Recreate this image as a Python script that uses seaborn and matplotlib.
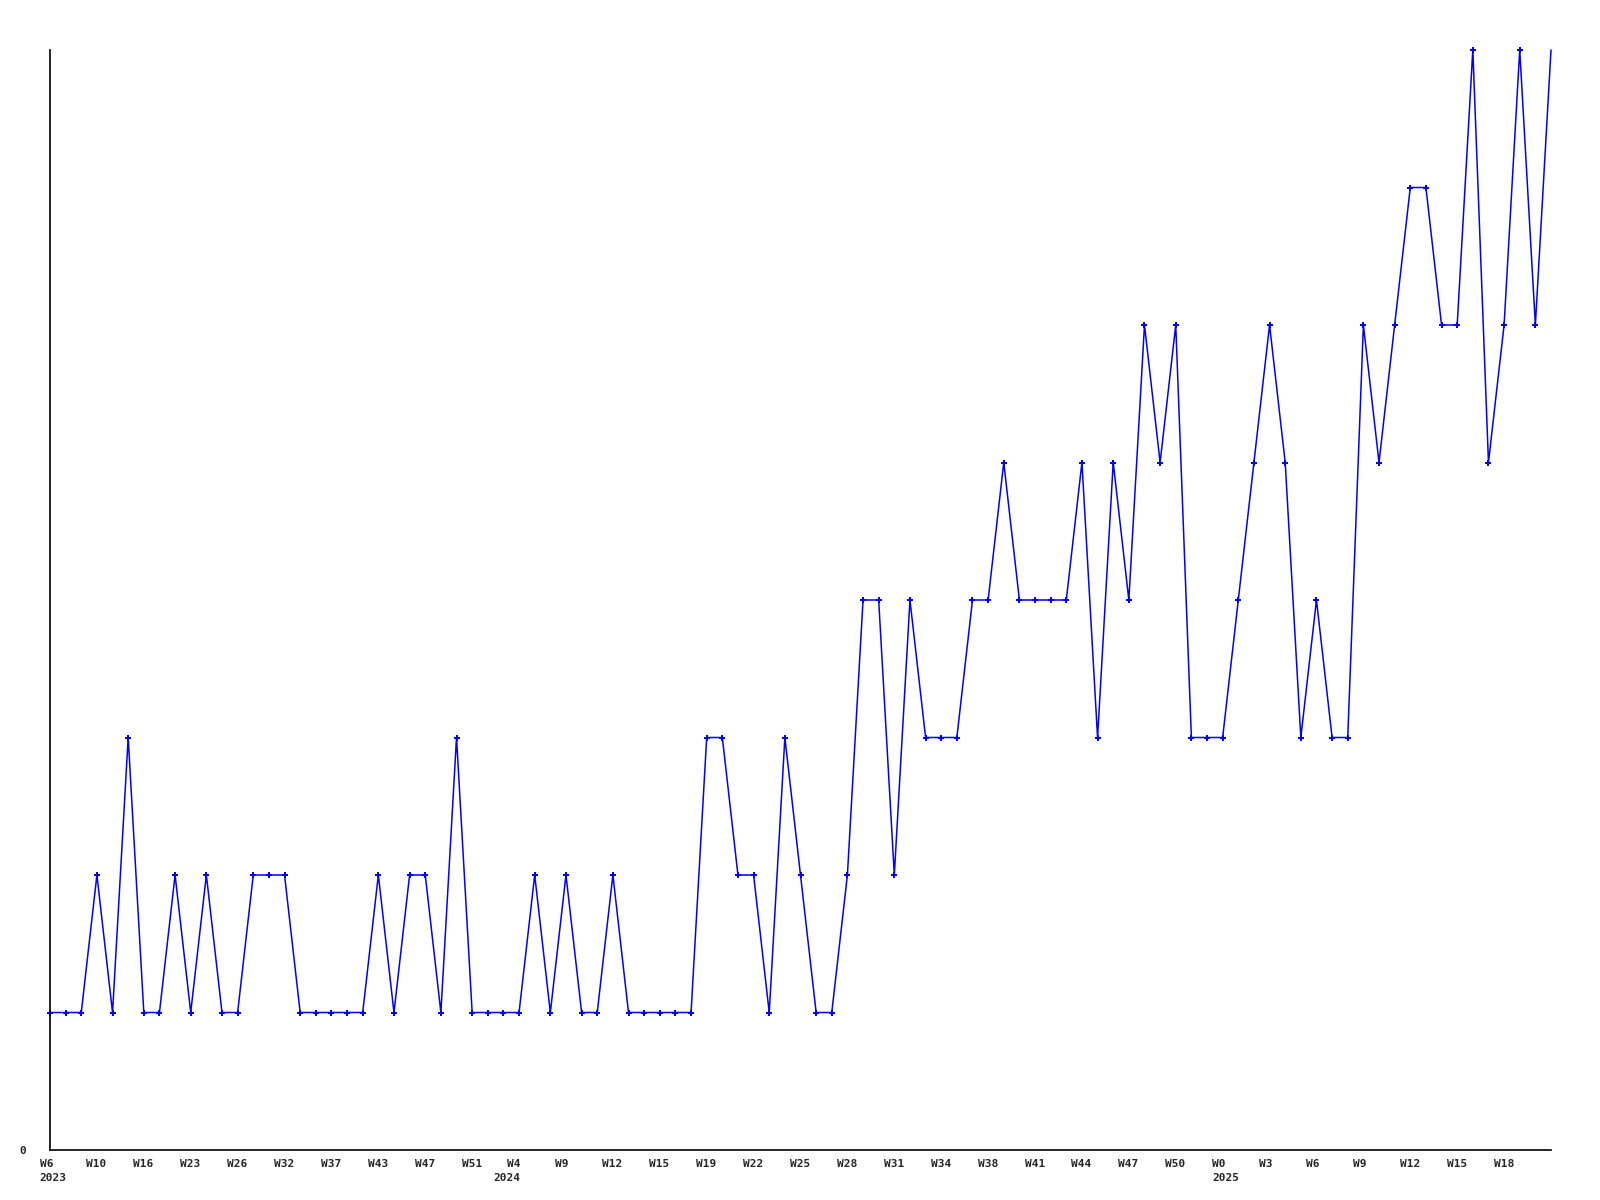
import numpy as np
import matplotlib
matplotlib.use('Agg')
import matplotlib.pyplot as plt
import matplotlib.transforms as mtransforms
import seaborn as sns

# weekly counts
values = [1, 1, 1, 2, 1, 3, 1, 1, 2, 1,
          2, 1, 1, 2, 2, 2, 1, 1, 1, 1,
          1, 2, 1, 2, 2, 1, 3, 1, 1, 1,
          1, 2, 1, 2, 1, 1, 2, 1, 1, 1,
          1, 1, 3, 3, 2, 2, 1, 3, 2, 1,
          1, 2, 4, 4, 2, 4, 3, 3, 3, 4,
          4, 5, 4, 4, 4, 4, 5, 3, 5, 4,
          6, 5, 6, 3, 3, 3, 4, 5, 6, 5,
          3, 4, 3, 3, 6, 5, 6, 7, 7, 6,
          6, 8, 5, 6, 8, 6, 8]
x = np.arange(len(values))

# x axis labels (week / year), one on every third point
week_labels = ['W6\n2023', 'W10', 'W16', 'W23', 'W26', 'W32', 'W37', 'W43', 'W47', 'W51',
               'W4\n2024', 'W9', 'W12', 'W15', 'W19', 'W22', 'W25', 'W28', 'W31', 'W34',
               'W38', 'W41', 'W44', 'W47', 'W50', 'W0\n2025', 'W3', 'W6', 'W9', 'W12',
               'W15', 'W18']
label_pos = x[::3]

sns.set_style('white')
plt.rcParams['font.family'] = ['DejaVu Sans Mono']

fig = plt.figure(figsize=(16, 12), dpi=100)
ax = fig.add_axes([50 / 1600, 50 / 1200, 1501 / 1600, 1100 / 1200])

sns.lineplot(x=x, y=values, ax=ax, color='#0000ff', linewidth=1.1,
             marker='P', markersize=5, markeredgewidth=0,
             markevery=list(range(len(values) - 1)), clip_on=False)

ax.set_xlim(0, len(values) - 1)
ax.set_ylim(0, 8)
sns.despine(ax=ax)
for s in ['left', 'bottom']:
    ax.spines[s].set_color('black')
    ax.spines[s].set_linewidth(1.2)

ax.set_yticks([0])
ax.set_yticklabels(['0'], fontsize=8, fontweight='bold')
ax.tick_params(axis='y', length=0, pad=17)
ax.set_xticks([])

base = ax.get_xaxis_transform()
for pos, lab in zip(label_pos, week_labels):
    dx = -10.5
    if lab.startswith('W4\n'):
        dx = -25.5
    tr = base + mtransforms.ScaledTranslation(dx / 100, -9 / 100, fig.dpi_scale_trans)
    t = ax.text(pos, 0, lab, transform=tr, ha='left', va='top',
                fontsize=8, fontweight='bold', linespacing=1.5)
    if lab.startswith('W4\n'):
        t.set_multialignment('right')

ax.set_xlabel('')
ax.set_ylabel('')
fig.savefig('out.png', dpi=100, facecolor='white')
